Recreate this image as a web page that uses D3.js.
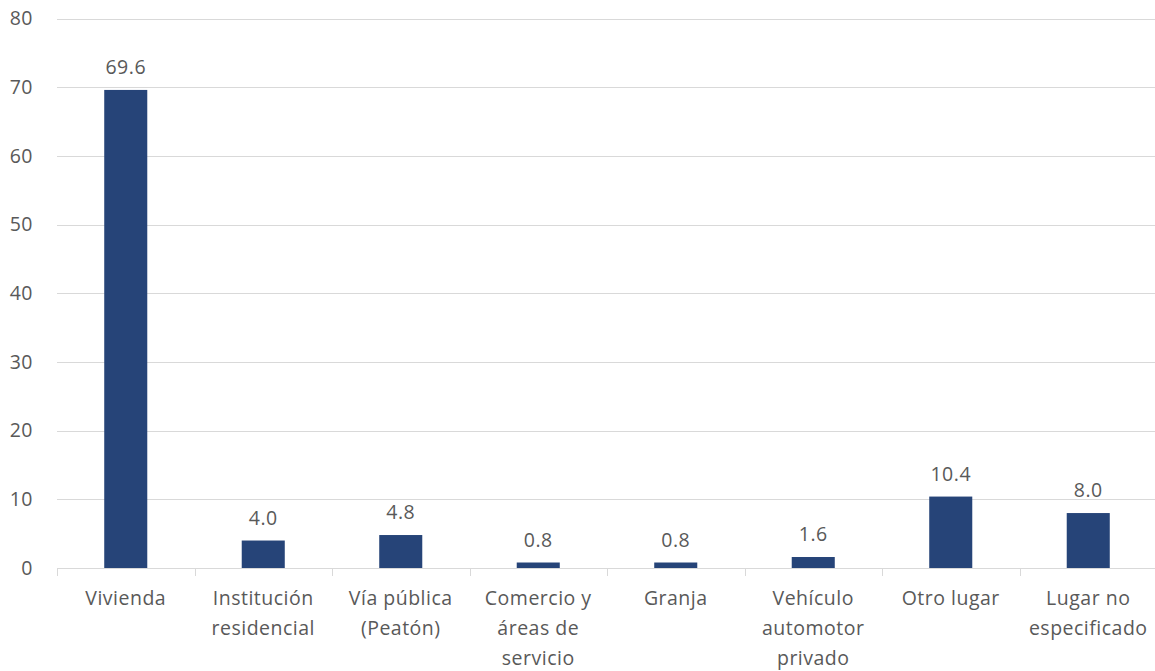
<!DOCTYPE html>
<html>
<head>
<meta charset="utf-8">
<script src="https://cdn.jsdelivr.net/npm/d3@7"></script>
<style>
  html, body { margin: 0; padding: 0; background: #fff; }
  svg { display: block; }
  text { font-family: "Open Sans", "Liberation Sans", sans-serif; fill: #595959; letter-spacing: 0.5px; }
</style>
</head>
<body>
<svg id="chart" width="1155" height="671"></svg>
<script>
// Place of occurrence, percentage of cases
const categories = [
  ["Vivienda"],
  ["Institución", "residencial"],
  ["Vía pública", "(Peatón)"],
  ["Comercio y", "áreas de", "servicio"],
  ["Granja"],
  ["Vehículo", "automotor", "privado"],
  ["Otro lugar"],
  ["Lugar no", "especificado"]
];
const values = [69.6, 4.0, 4.8, 0.8, 0.8, 1.6, 10.4, 8.0];
const yTicks = [0, 10, 20, 30, 40, 50, 60, 70, 80];

const svg = d3.select("#chart");
const plotLeft = 57, plotRight = 1157, plotTop = 18.5, plotBottom = 568;
const fontSize = 19.5;

const x = d3.scaleBand()
  .domain(d3.range(categories.length))
  .range([plotLeft, plotRight])
  .paddingInner(0.687)
  .paddingOuter(0.3435);

const band = d3.scaleBand().domain(d3.range(categories.length)).range([plotLeft, plotRight]);

const y = d3.scaleLinear().domain([0, 80]).range([plotBottom, plotTop]);

// horizontal gridlines
svg.append("g")
  .selectAll("line")
  .data(yTicks.filter(t => t > 0))
  .join("line")
  .attr("x1", plotLeft).attr("x2", plotRight)
  .attr("y1", d => Math.round(y(d)) + 0.5).attr("y2", d => Math.round(y(d)) + 0.5)
  .attr("stroke", "#d9d9d9").attr("stroke-width", 1);

// y-axis labels
const yAxis = d3.axisLeft(y).tickValues(yTicks).tickSize(0).tickPadding(0);
const yg = svg.append("g").attr("transform", `translate(33,0)`).call(yAxis);
yg.select(".domain").remove();
yg.selectAll("text")
  .attr("font-size", fontSize)
  .attr("fill", "#595959")
  .style("font-family", '"Open Sans", "Liberation Sans", sans-serif');

// bars
svg.append("g")
  .selectAll("rect")
  .data(values)
  .join("rect")
  .attr("x", (d, i) => x(i))
  .attr("width", x.bandwidth())
  .attr("y", d => y(d))
  .attr("height", d => plotBottom - y(d))
  .attr("fill", "#264478");

// value labels
svg.append("g")
  .selectAll("text")
  .data(values)
  .join("text")
  .attr("x", (d, i) => x(i) + x.bandwidth() / 2)
  .attr("y", d => y(d) - 16)
  .attr("text-anchor", "middle")
  .attr("font-size", fontSize)
  .text(d => d.toFixed(1));

// category axis with tick marks between bands
const xg = svg.append("g");
xg.append("line")
  .attr("x1", plotLeft).attr("x2", plotRight)
  .attr("y1", plotBottom + 0.5).attr("y2", plotBottom + 0.5)
  .attr("stroke", "#d9d9d9").attr("stroke-width", 1);
xg.selectAll("line.tick")
  .data(d3.range(categories.length + 1))
  .join("line")
  .attr("class", "tick")
  .attr("x1", i => Math.round(plotLeft + i * band.step()) + 0.5)
  .attr("x2", i => Math.round(plotLeft + i * band.step()) + 0.5)
  .attr("y1", plotBottom).attr("y2", plotBottom + 8)
  .attr("stroke", "#d9d9d9").attr("stroke-width", 1);

const labels = xg.selectAll("text.cat")
  .data(categories)
  .join("text")
  .attr("class", "cat")
  .attr("text-anchor", "middle")
  .attr("font-size", fontSize)
  .attr("x", (d, i) => band(i) + band.bandwidth() / 2)
  .attr("y", 605);
labels.selectAll("tspan")
  .data(d => d)
  .join("tspan")
  .attr("x", function () { return d3.select(this.parentNode).attr("x"); })
  .attr("dy", (d, j) => j === 0 ? 0 : 30)
  .text(d => d);
</script>
</body>
</html>
